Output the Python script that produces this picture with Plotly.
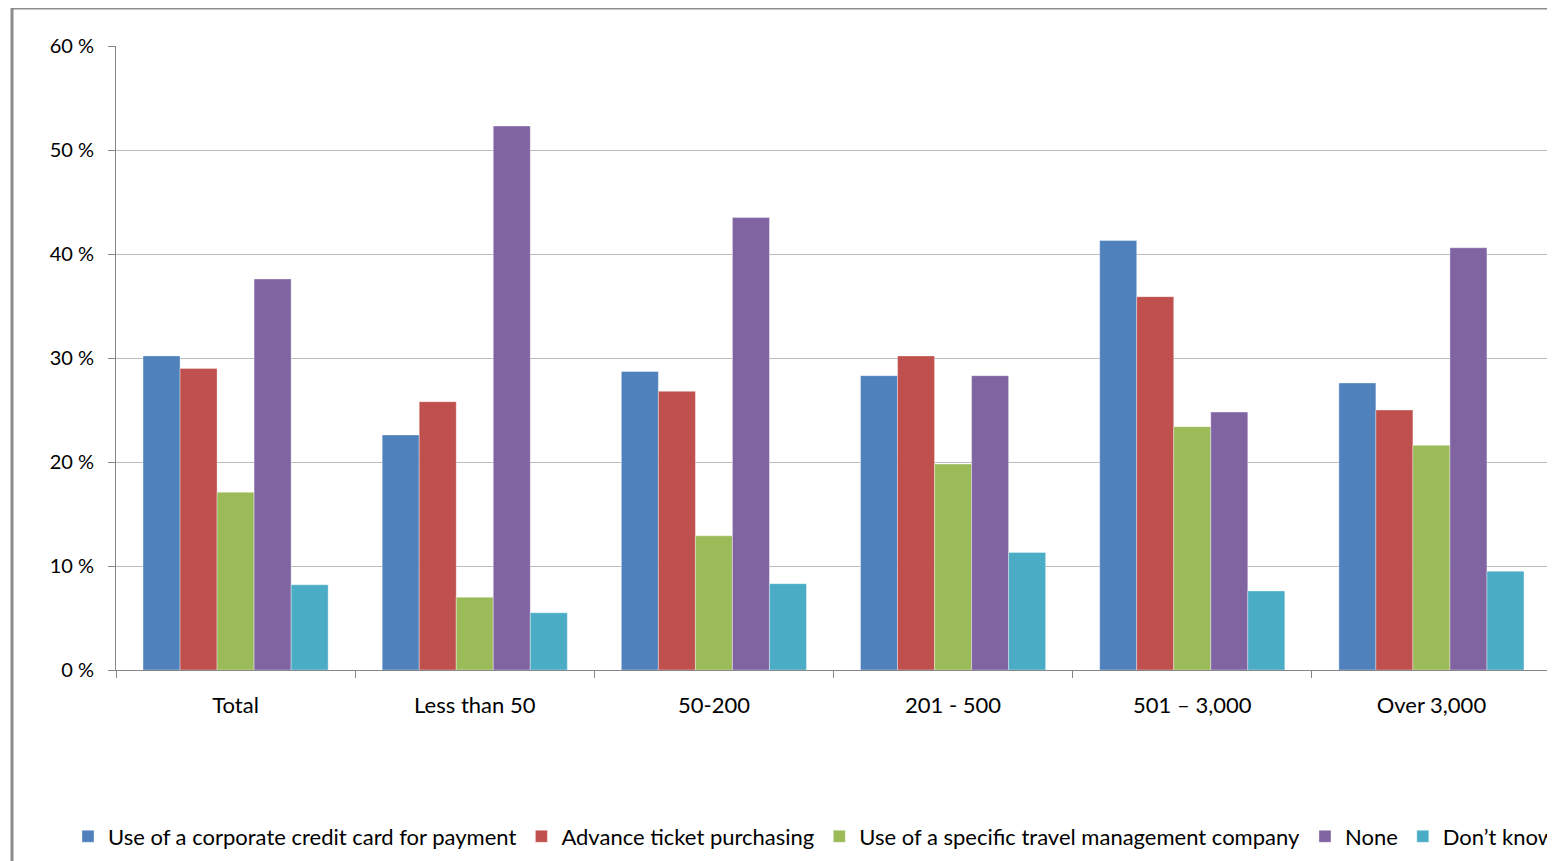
import plotly.graph_objects as go

categories = ["Total", "Less than 50", "50-200", "201 - 500", "501 \u2013 3,000", "Over 3,000"]
series_names = [
    "Use of a corporate credit card for payment",
    "Advance ticket purchasing",
    "Use of a specific travel management company",
    "None",
    "Don\u2019t know",
]
credit_card = [30.2, 22.6, 28.7, 28.3, 41.3, 27.6]
advance_ticket = [29.0, 25.8, 26.8, 30.2, 35.9, 25.0]
travel_mgmt = [17.1, 7.0, 12.9, 19.8, 23.4, 21.6]
none_vals = [37.6, 52.3, 43.5, 28.3, 24.8, 40.6]
dont_know = [8.2, 5.5, 8.3, 11.3, 7.6, 9.5]
y_ticks = [0, 10, 20, 30, 40, 50, 60]

colors = ["#4F81BD", "#C0504D", "#9BBB59", "#8064A2", "#4BACC6"]
values = [credit_card, advance_ticket, travel_mgmt, none_vals, dont_know]

FONT = "Lato"
fig = go.Figure()
for name, vals, col in zip(series_names, values, colors):
    fig.add_trace(go.Bar(
        x=categories, y=vals, name=name,
        marker=dict(color=col, line=dict(color="rgba(255,255,255,0.6)", width=0.6)),
    ))

# page is rendered with an 8px body margin; work in page pixels and offset
OFF = 8
W, H = 1555, 861
L = 116 - OFF
T = 46 - OFF
plot_right = 1551 - OFF
plot_bottom = 672 - OFF
R = W - plot_right
B = H - plot_bottom
pw = W - L - R
ph = H - T - B

def px_x(x):
    return (x - OFF - L) / pw

def px_y(y):
    return (plot_bottom - (y - OFF)) / ph

fig.update_layout(
    width=W, height=H,
    margin=dict(l=L, r=R, t=T, b=B),
    paper_bgcolor="white", plot_bgcolor="white",
    barmode="group", bargap=0.226, bargroupgap=0,
    font=dict(family=FONT, size=20, color="#000000"),
    showlegend=True,
    legend=dict(
        orientation="h", x=px_x(68), xanchor="left", y=px_y(839), yanchor="middle",
        font=dict(family=FONT, size=22, color="#000000"),
        traceorder="normal",
    ),
    xaxis=dict(
        type="category", tickson="boundaries", ticks="outside", ticklen=7,
        tickcolor="#868686", showline=True, linecolor="#868686", linewidth=1,
        showgrid=False, ticklabelstandoff=16,
        tickfont=dict(family=FONT, size=22, color="#000000"),
    ),
    yaxis=dict(
        range=[0, 60], tickvals=y_ticks, ticktext=[f"{v} %" for v in y_ticks],
        ticks="outside", ticklen=7, tickcolor="#868686",
        showline=True, linecolor="#868686", linewidth=1,
        showgrid=True, gridcolor="#bcbcbc", gridwidth=1,
        zeroline=False, ticklabelstandoff=10,
        tickfont=dict(family=FONT, size=20, color="#000000"),
    ),
)

# outer chart frame (left and top edges visible)
fig.add_shape(type="line", xref="paper", yref="paper",
              x0=px_x(12), x1=px_x(12), y0=px_y(880), y1=px_y(8),
              line=dict(color="#8c8c8c", width=3))
fig.add_shape(type="line", xref="paper", yref="paper",
              x0=px_x(11), x1=px_x(1580), y0=px_y(8), y1=px_y(8),
              line=dict(color="#8c8c8c", width=3))

fig.write_html("out.html")
